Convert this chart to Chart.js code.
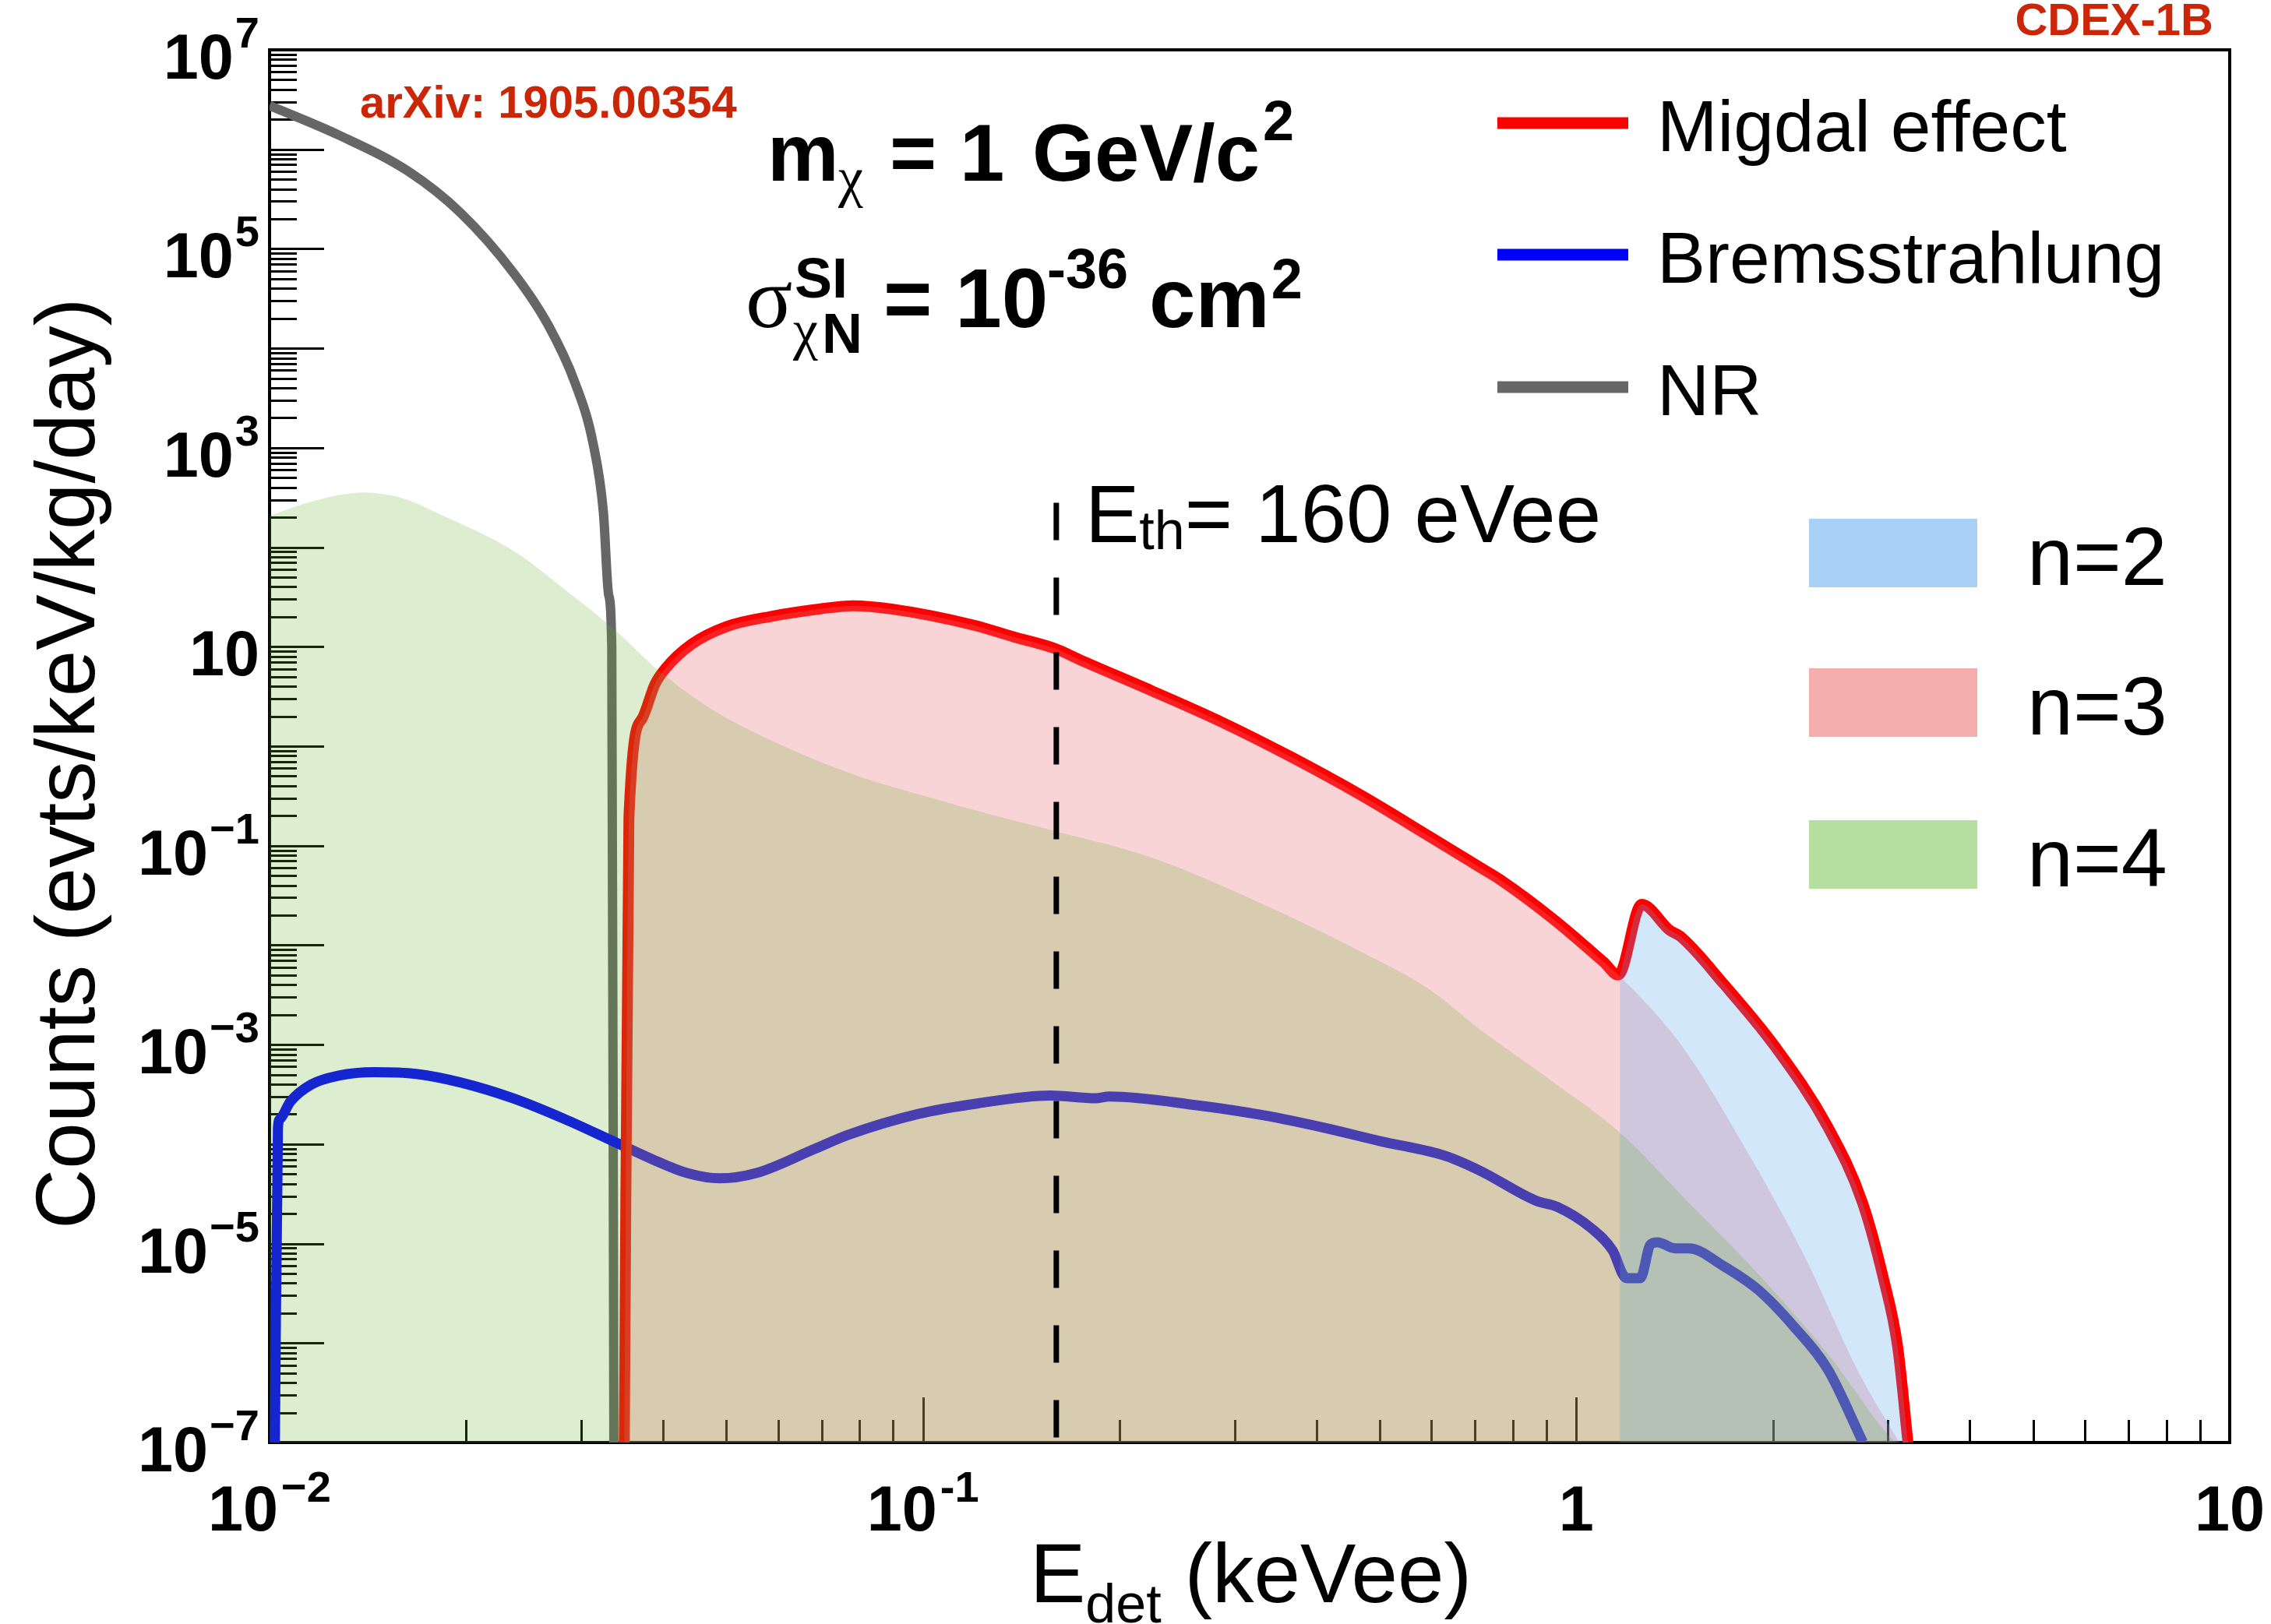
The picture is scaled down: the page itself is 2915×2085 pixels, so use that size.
<!DOCTYPE html>
<html>
<head>
<meta charset="utf-8">
<script src="https://cdn.jsdelivr.net/npm/chart.js@4.4.1/dist/chart.umd.min.js"></script>
<style>
  html, body { margin: 0; padding: 0; background: #fff; overflow: hidden; }
  canvas { display: block; }
</style>
</head>
<body>
<canvas id="spectrum" width="2915" height="2085"></canvas>
<script>
// NR recoil spectrum (gray)
const nrX = [0.0100, 0.01276, 0.01633, 0.01963, 0.02360, 0.02667, 0.02938, 0.03126, 0.03243, 0.03304, 0.03340, 0.03365];
const nrY = [2.75e6, 1.39e6, 5.97e5, 2.28e5, 5.78e4, 1.73e4, 4.40e3, 1.12e3, 224, 33, 10, 1e-7];

// Migdal effect total (red)
const migdalX = [0.03491, 0.03548, 0.03715, 0.03890, 0.04036, 0.04426, 0.05000, 0.05861, 0.06966, 0.07816,
                 0.08995, 0.1194, 0.1374, 0.1600, 0.1734, 0.2239, 0.2864, 0.3656, 0.4677, 0.5970,
                 0.7129, 0.7638, 0.9226, 1.100, 1.159, 1.259, 1.390, 1.442, 1.681, 2.020,
                 2.427, 2.742, 2.951, 3.102, 3.218];
const migdalY = [1e-7, 0.191, 1.88, 4.21, 6.04, 10.6, 15.9, 20.2, 24.0, 25.8,
                 23.8, 16.5, 12.6, 9.48, 7.46, 3.61, 1.75, 0.783, 0.323, 0.123,
                 0.0603, 0.0457, 0.0182, 0.0068, 0.00501, 0.0257, 0.0141, 0.0123, 0.00407, 9.33e-4,
                 1.48e-4, 2.57e-5, 4.47e-6, 9.33e-7, 1e-7];

// Bremsstrahlung (blue)
const bremsX = [0.01019, 0.01030, 0.01037, 0.01076, 0.01159, 0.01276, 0.01445, 0.01675, 0.01963, 0.02360,
                0.02831, 0.03365, 0.03849, 0.04355, 0.04887, 0.05559, 0.06839, 0.07691, 0.09840, 0.1211,
                0.1567, 0.1837, 0.1928, 0.2624, 0.3350, 0.4111, 0.5012, 0.6310, 0.7129, 0.8670,
                0.9333, 1.055, 1.136, 1.193, 1.253, 1.299, 1.331, 1.416, 1.486, 1.681,
                1.901, 2.148, 2.427, 2.745];
const bremsY = [1e-7, 1.46e-4, 1.78e-4, 2.67e-4, 3.98e-4, 4.88e-4, 5.28e-4, 5.07e-4, 4.15e-4, 2.88e-4,
                1.78e-4, 1.06e-4, 7.06e-5, 5.12e-5, 4.53e-5, 5.12e-5, 8.99e-5, 1.24e-4, 2.01e-4, 2.56e-4,
                3.08e-4, 2.89e-4, 3.01e-4, 2.46e-4, 1.93e-4, 1.46e-4, 1.07e-4, 7.59e-5, 5.38e-5, 2.70e-5,
                2.35e-5, 1.42e-5, 8.55e-6, 4.49e-6, 4.49e-6, 9.82e-6, 1.03e-5, 8.95e-6, 8.95e-6, 5.92e-6,
                3.40e-6, 1.49e-6, 5.41e-7, 1.01e-7];

// shell contributions (filled)
const n2X = [1.166, 1.259, 1.390, 1.442, 1.681, 2.020, 2.427, 2.742, 2.951, 3.102, 3.218];
const n2Y = [0.0050, 0.0257, 0.0141, 0.0123, 0.00407, 9.33e-4, 1.48e-4, 2.57e-5, 4.47e-6, 9.33e-7, 1e-7];

// n=3 follows the total below the L-shell edge, then its own tail
const n3TailX = [1.331, 1.486, 1.766, 2.228, 2.711, 3.121];
const n3TailY = [1.95e-3, 7.76e-4, 1.23e-4, 7.76e-6, 4.93e-7, 1e-7];

const n4X = [0.01000, 0.01175, 0.01393, 0.01585, 0.01845, 0.02360, 0.02904, 0.03381, 0.03963, 0.04875,
             0.06237, 0.07962, 0.1019, 0.1300, 0.1600, 0.2239, 0.3236, 0.4677, 0.5970, 0.7129,
             0.9099, 1.168, 1.486, 1.901, 2.427, 3.027, 3.09];
const n4Y = [206.5, 295, 356, 316, 206.5, 92.3, 32.9, 14.7, 5.57, 2.12,
             0.948, 0.499, 0.308, 0.197, 0.139, 0.0759, 0.0277, 8.61e-3, 3.56e-3, 1.41e-3,
             4.47e-4, 1.29e-4, 2.58e-5, 4.90e-6, 7.76e-7, 1.12e-7, 1e-7];

// threshold marker
const ethX = 0.16;
const ethTop = 280;

// axis ticks
const yTickVals = [1e7, 1e5, 1e3, 1e1, 1e-1, 1e-3, 1e-5, 1e-7];
const yTickExp = ['7', '5', '3', '', '\u22121', '\u22123', '\u22125', '\u22127'];
const xTickVals = [0.01, 0.1, 1, 10];
const xTickBase = ['10', '10', '1', '10'];
const xTickExp = ['\u22122', '-1', '', ''];

const pts = (xs, ys) => xs.map((x, i) => ({ x, y: ys[i] }));
const cut = migdalX.indexOf(1.159) + 1;
const n3X = migdalX.slice(0, cut).concat(n3TailX);
const n3Y = migdalY.slice(0, cut).concat(n3TailY);

const SANS = '"Liberation Sans", Arial, Helvetica, sans-serif';
const SERIF = '"Liberation Serif", "DejaVu Serif", serif';

function put(ctx, s, x, y, font, color, align) {
  ctx.font = font;
  ctx.fillStyle = color || '#000';
  ctx.textAlign = align || 'left';
  ctx.textBaseline = 'alphabetic';
  ctx.fillText(s, x, y);
  return ctx.measureText(s).width;
}

// frame and ticks go under the curves so the fills tint them
const frame = {
  id: 'frame',
  beforeDatasetsDraw(chart) {
    const { ctx, chartArea: a, scales: { x, y } } = chart;
    ctx.save();
    ctx.strokeStyle = '#000';
    ctx.lineWidth = 3;
    ctx.beginPath();
    for (let e = -7; e <= 7; e++) {
      for (let k = 1; k <= 9; k++) {
        const v = k * Math.pow(10, e);
        if (v > 1.0001e7) break;
        const py = Math.round(y.getPixelForValue(v)) + 0.5;
        ctx.moveTo(a.left, py);
        ctx.lineTo(a.left + (k === 1 ? 70 : 35), py);
      }
    }
    for (let e = -2; e <= 1; e++) {
      for (let k = 1; k <= 9; k++) {
        const v = k * Math.pow(10, e);
        if (v > 10.0001) break;
        const px = Math.round(x.getPixelForValue(v)) + 0.5;
        ctx.moveTo(px, a.bottom);
        ctx.lineTo(px, a.bottom - (k === 1 ? 58 : 29));
      }
    }
    ctx.stroke();
    ctx.lineWidth = 4;
    ctx.strokeRect(a.left, a.top, a.right - a.left, a.bottom - a.top);
    ctx.restore();
  }
};

const decorations = {
  id: 'decorations',
  afterDatasetsDraw(chart) {
    const { ctx, scales: { x, y } } = chart;
    ctx.save();

    // y tick labels
    yTickVals.forEach((v, i) => {
      const py = y.getPixelForValue(v);
      let right = 333;
      if (yTickExp[i]) {
        const w = put(ctx, yTickExp[i], right, py - 3, 'bold 56px ' + SANS, '#000', 'right');
        right -= w + 2;
      }
      put(ctx, '10', right, py + 37, 'bold 81px ' + SANS, '#000', 'right');
    });

    // x tick labels
    xTickVals.forEach((v, i) => {
      const px = x.getPixelForValue(v);
      ctx.font = 'bold 81px ' + SANS;
      const wb = ctx.measureText(xTickBase[i]).width;
      ctx.font = 'bold 56px ' + SANS;
      const we = xTickExp[i] ? ctx.measureText(xTickExp[i]).width + 4 : 0;
      const x0 = px - (wb + we) / 2;
      put(ctx, xTickBase[i], x0, 1965, 'bold 81px ' + SANS);
      if (xTickExp[i]) put(ctx, xTickExp[i], x0 + wb + 4, 1928, 'bold 56px ' + SANS);
    });

    // axis titles
    let cx = 1322;
    cx += put(ctx, 'E', cx, 2057, '107px ' + SANS);
    cx += put(ctx, 'det', cx, 2083, '70px ' + SANS);
    put(ctx, ' (keVee)', cx, 2057, '107px ' + SANS);

    ctx.save();
    ctx.translate(121, 1578);
    ctx.rotate(-Math.PI / 2);
    put(ctx, 'Counts (evts/keV/kg/day)', 0, 0, '107px ' + SANS);
    ctx.restore();

    // labels above and inside the frame
    put(ctx, 'CDEX-1B', 2841, 45, 'bold 58px ' + SANS, '#cc2608', 'right');
    put(ctx, 'arXiv: 1905.00354', 462, 151, 'bold 58px ' + SANS, '#cc2608');

    put(ctx, 'm', 985, 232, 'bold 103px ' + SANS);
    put(ctx, '\u03c7', 1076, 252, '72px ' + SERIF);
    put(ctx, '=', 1142, 232, 'bold 103px ' + SANS);
    put(ctx, '1', 1232, 232, 'bold 103px ' + SANS);
    cx = 1325 + put(ctx, 'GeV/c', 1325, 232, 'bold 103px ' + SANS);
    put(ctx, '2', cx + 4, 180, 'bold 72px ' + SANS);

    put(ctx, '\u03c3', 957, 420, '112px ' + SERIF);
    put(ctx, 'SI', 1020, 382, 'bold 72px ' + SANS);
    put(ctx, '\u03c7', 1018, 448, '72px ' + SERIF);
    put(ctx, 'N', 1055, 453, 'bold 72px ' + SANS);
    put(ctx, '= 10', 1134, 420, 'bold 107px ' + SANS);
    put(ctx, '-36', 1344, 370, 'bold 72px ' + SANS);
    cx = 1475 + put(ctx, 'cm', 1475, 420, 'bold 107px ' + SANS);
    put(ctx, '2', cx + 2, 383, 'bold 72px ' + SANS);

    cx = 1393;
    cx += put(ctx, 'E', cx, 696, '104px ' + SANS);
    cx += put(ctx, 'th', cx, 705, '70px ' + SANS);
    put(ctx, '= 160 eVee', cx, 696, '105px ' + SANS);

    // legend: curves
    const lineLegend = [
      ['Migdal effect', '#ff0000', 158],
      ['Bremsstrahlung', '#0000ff', 327],
      ['NR', '#666666', 497]
    ];
    ctx.lineCap = 'butt';
    lineLegend.forEach(([label, color, ly]) => {
      ctx.strokeStyle = color;
      ctx.lineWidth = 15;
      ctx.beginPath();
      ctx.moveTo(1922, ly);
      ctx.lineTo(2090, ly);
      ctx.stroke();
      put(ctx, label, 2127, ly + 36, '93px ' + SANS);
    });

    // legend: shells
    const boxLegend = [
      ['n=2', '#a9d1f7', 666],
      ['n=3', '#f4adad', 858],
      ['n=4', '#b6df9f', 1053]
    ];
    boxLegend.forEach(([label, color, by]) => {
      ctx.fillStyle = color;
      ctx.fillRect(2322, by, 216, 88);
      put(ctx, label, 2602, by + 85, '106px ' + SANS);
    });

    ctx.restore();
  }
};

const fillSet = (label, xs, ys, color) => ({
  label,
  data: pts(xs, ys),
  borderColor: 'transparent',
  borderWidth: 0,
  backgroundColor: color,
  fill: 'start',
  pointRadius: 0,
  cubicInterpolationMode: 'monotone',
  clip: 0
});

const curve = (label, xs, ys, color, width) => ({
  label,
  data: pts(xs, ys),
  borderColor: color,
  borderWidth: width,
  pointRadius: 0,
  cubicInterpolationMode: 'monotone',
  fill: false,
  clip: 0
});

// first dataset is drawn last: dashed marker on top, then n=4, n=2, n=3 fills over the curves
new Chart(document.getElementById('spectrum'), {
  type: 'line',
  data: {
    datasets: [
      {
        label: 'Eth',
        data: [{ x: ethX, y: ethTop }, { x: ethX, y: 1e-7 }],
        borderColor: '#000',
        borderWidth: 7,
        borderDash: [48, 48],
        pointRadius: 0,
        fill: false,
        clip: 0
      },
      fillSet('n=4', n4X, n4Y, 'rgba(95,173,41,0.22)'),
      fillSet('n=2', n2X, n2Y, 'rgba(85,162,238,0.26)'),
      fillSet('n=3', n3X, n3Y, 'rgba(231,109,116,0.294)'),
      curve('Migdal effect', migdalX, migdalY, '#ff0000', 14),
      curve('Bremsstrahlung', bremsX, bremsY, '#0000ff', 13),
      curve('NR', nrX, nrY, '#666666', 12)
    ]
  },
  options: {
    responsive: false,
    animation: false,
    devicePixelRatio: 1,
    layout: { padding: { left: 346, top: 64, right: 53, bottom: 233 } },
    plugins: { legend: { display: false }, tooltip: { enabled: false } },
    scales: {
      x: { type: 'logarithmic', min: 0.01, max: 10, display: false },
      y: { type: 'logarithmic', min: 1e-7, max: 1e7, display: false }
    }
  },
  plugins: [frame, decorations]
});
</script>
</body>
</html>
